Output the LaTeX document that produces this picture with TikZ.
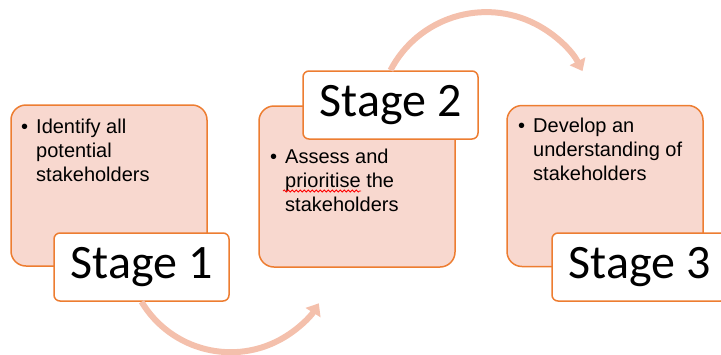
\documentclass[tikz,border=0pt]{standalone}
\usepackage{fontspec}
\usepackage{tikz}
\usetikzlibrary{arrows.meta,decorations.pathmorphing}
\newfontfamily\stagefont{Carlito}
\newfontfamily\pointfont{Liberation Sans}
\definecolor{boxfill}{HTML}{F8D8CF}
\definecolor{boxline}{HTML}{ED7D31}
\definecolor{arcline}{HTML}{F4C0AC}

\begin{document}
\begin{tikzpicture}[x=1pt,y=-1pt,
	stagebox/.style={draw=boxline,line width=1.5pt,fill=boxfill,rounded corners=15pt,minimum width=196pt,minimum height=161pt,inner sep=0pt},
	stagelabel/.style={draw=boxline,line width=1.5pt,fill=white,rounded corners=6pt,minimum width=175pt,minimum height=68pt,inner sep=0pt,font=\stagefont\fontsize{48}{58}\selectfont},
	points/.style={anchor=base west,inner sep=0pt,font=\pointfont\fontsize{20}{24}\selectfont},
	flow/.style={arcline,line width=6pt,-{Triangle[length=11pt,width=17pt]}}]
			\useasboundingbox (0,0) rectangle (721,354);
			\node[stagebox] (box1) at (109,185.5) {};
			\node[stagebox] (box2) at (357,186.5) {};
			\node[stagebox] (box3) at (605,186) {};
			\node[points] (txt1) at (21,133) {\begin{tabular}[t]{@{}l@{\hspace{8pt}}l@{}}\textbullet & Identify all\\ & potential\\ & stakeholders\end{tabular}};
			\node[points] (txt2) at (270,163) {\begin{tabular}[t]{@{}l@{\hspace{8pt}}l@{}}\textbullet & Assess and\\ & prioritise the\\ & stakeholders\end{tabular}};
			\node[points] (txt3) at (518,132) {\begin{tabular}[t]{@{}l@{\hspace{8pt}}l@{}}\textbullet & Develop an\\ & understanding of\\ & stakeholders\end{tabular}};
			\draw [red,line width=0.8pt,decorate,decoration={snake,amplitude=1pt,segment length=4pt}] (283,191) -- (361,191);
			\node[stagelabel] (lab1) at (141.5,267) {Stage 1};
			\node[stagelabel] (lab2) at (390.5,105) {Stage 2};
			\node[stagelabel] (lab3) at (639.5,267) {Stage 3};
			\draw [flow] (lab1.south) arc[start angle=149,end angle=32,radius=104];
			\draw [flow] (lab2.north) arc[start angle=207.5,end angle=333,radius=108];
		\end{tikzpicture}
\end{document}
